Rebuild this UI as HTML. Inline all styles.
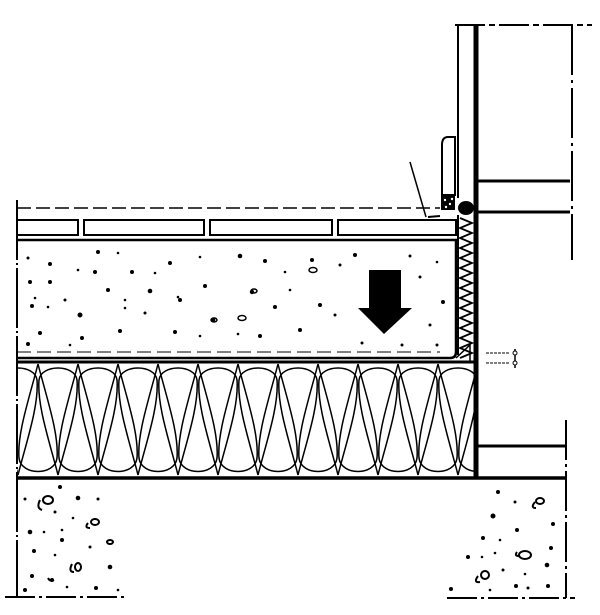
<!DOCTYPE html>
<html><head><style>html,body{margin:0;padding:0;background:#fff}svg{display:block}</style></head>
<body>
<svg width="600" height="615" viewBox="0 0 600 615" xmlns="http://www.w3.org/2000/svg" xmlns:xlink="http://www.w3.org/1999/xlink" fill="none" stroke="#000">
<defs>
<clipPath id="ic"><rect x="17" y="363" width="457" height="114"/></clipPath>
<g id="cell" stroke-width="1.5">
<path d="M20 475 C11 440 -1 405 1 380 C3 364 37 364 39 380 C41 405 29 440 20 475"/>
<path d="M40 364 C31 399 19 434 21 458 C23 476 57 476 59 458 C61 434 49 399 40 364"/>
</g>
</defs>
<!-- left boundary -->
<line x1="17" y1="200" x2="17" y2="598" stroke-width="2" stroke-dasharray="60 3 2 3"/>
<!-- top dashed line of floor -->
<line x1="17" y1="208" x2="440" y2="208" stroke-width="1.5" stroke-dasharray="14 5"/>
<!-- tiles -->
<g stroke-width="2">
<rect x="17" y="220" width="61" height="15"/>
<rect x="84" y="220" width="120" height="15"/>
<rect x="210" y="220" width="122" height="15"/>
<rect x="338" y="220" width="118" height="15"/>
</g>
<line x1="17" y1="240" x2="458" y2="240" stroke-width="2.5"/>
<!-- screed -->
<path d="M456 240 V352 Q456 358 450 358 H17" stroke-width="2.5"/>
<line x1="17" y1="352" x2="440" y2="352" stroke-width="1" stroke-dasharray="14 6"/>
<!-- screed dots -->
<g fill="#000" stroke="none">
<circle cx="28" cy="258" r="1.5"/><circle cx="50" cy="264" r="2"/><circle cx="98" cy="252" r="2"/><circle cx="118" cy="253" r="1.3"/><circle cx="78" cy="270" r="1.3"/><circle cx="95" cy="272" r="2"/><circle cx="132" cy="272" r="2"/><circle cx="155" cy="273" r="1.3"/><circle cx="170" cy="263" r="2"/><circle cx="200" cy="257" r="1.3"/><circle cx="240" cy="256" r="2.3"/><circle cx="265" cy="261" r="2"/><circle cx="285" cy="272" r="1.3"/><circle cx="30" cy="282" r="2"/><circle cx="50" cy="282" r="2"/><circle cx="108" cy="290" r="2"/><circle cx="150" cy="291" r="2.3"/><circle cx="178" cy="297" r="1.3"/><circle cx="205" cy="286" r="2"/><circle cx="252" cy="292" r="2.2"/><circle cx="35" cy="298" r="1.3"/><circle cx="65" cy="300" r="1.5"/><circle cx="125" cy="300" r="1.3"/><circle cx="180" cy="300" r="2"/><circle cx="32" cy="306" r="2"/><circle cx="48" cy="307" r="1.3"/><circle cx="80" cy="315" r="2.5"/><circle cx="125" cy="308" r="1.3"/><circle cx="145" cy="313" r="1.5"/><circle cx="213" cy="320" r="2.3"/><circle cx="275" cy="307" r="2"/><circle cx="40" cy="333" r="2"/><circle cx="82" cy="338" r="2"/><circle cx="120" cy="331" r="2"/><circle cx="175" cy="332" r="2"/><circle cx="200" cy="336" r="1.3"/><circle cx="238" cy="334" r="1.3"/><circle cx="260" cy="336" r="2"/><circle cx="28" cy="344" r="2"/><circle cx="70" cy="345" r="1.3"/><circle cx="312" cy="260" r="2"/><circle cx="340" cy="265" r="1.5"/><circle cx="290" cy="290" r="1.3"/><circle cx="320" cy="305" r="2"/><circle cx="300" cy="330" r="2"/><circle cx="335" cy="315" r="1.5"/><circle cx="355" cy="255" r="2"/><circle cx="410" cy="256" r="1.5"/><circle cx="420" cy="277" r="1.5"/><circle cx="437" cy="262" r="1.3"/><circle cx="443" cy="302" r="2"/><circle cx="430" cy="325" r="1.5"/><circle cx="402" cy="345" r="1.5"/><circle cx="437" cy="345" r="1.5"/><circle cx="362" cy="343" r="1.5"/>
</g>
<g stroke-width="1.5"><ellipse cx="242" cy="318" rx="4" ry="2.5"/><ellipse cx="214" cy="320" rx="3" ry="2"/><ellipse cx="313" cy="270" rx="4" ry="2.5"/><ellipse cx="254" cy="291" rx="3" ry="2"/></g>
<!-- arrow -->
<path d="M369 270 H401 V308 H412 L384 334 L358 308 H369 Z" fill="#000" stroke="none"/>
<!-- insulation -->
<line x1="17" y1="362" x2="475" y2="362" stroke-width="3"/>
<line x1="17" y1="478" x2="566" y2="478" stroke-width="3.5"/>
<g clip-path="url(#ic)">
<use xlink:href="#cell" href="#cell" x="-2"/>
<use xlink:href="#cell" href="#cell" x="38"/>
<use xlink:href="#cell" href="#cell" x="78"/>
<use xlink:href="#cell" href="#cell" x="118"/>
<use xlink:href="#cell" href="#cell" x="158"/>
<use xlink:href="#cell" href="#cell" x="198"/>
<use xlink:href="#cell" href="#cell" x="238"/>
<use xlink:href="#cell" href="#cell" x="278"/>
<use xlink:href="#cell" href="#cell" x="318"/>
<use xlink:href="#cell" href="#cell" x="358"/>
<use xlink:href="#cell" href="#cell" x="398"/>
<use xlink:href="#cell" href="#cell" x="438"/>
</g>
<!-- wall -->
<line x1="476" y1="25" x2="476" y2="478" stroke-width="5"/>
<line x1="458" y1="25" x2="458" y2="198" stroke-width="2"/>
<line x1="455" y1="25" x2="592" y2="25" stroke-width="2" stroke-dasharray="30 4 6 4"/>
<line x1="572" y1="25" x2="572" y2="260" stroke-width="2" stroke-dasharray="50 5 3 5"/>
<line x1="478" y1="181" x2="570" y2="181" stroke-width="3"/>
<line x1="478" y1="212" x2="570" y2="212" stroke-width="3"/>
<line x1="478" y1="446" x2="566" y2="446" stroke-width="3"/>
<line x1="566" y1="420" x2="566" y2="598" stroke-width="2" stroke-dasharray="40 4 3 4"/>
<!-- skirting -->
<path d="M442 195 V145 Q442 137 448 137 H455 V195 Z" stroke-width="2" fill="#fff"/>
<rect x="441" y="196" width="14" height="14" fill="#000" stroke="none"/>
<g fill="#fff" stroke="none"><circle cx="445" cy="200" r="1.2"/><circle cx="450" cy="204" r="1.2"/><circle cx="446" cy="207" r="1.2"/><circle cx="452" cy="199" r="1.2"/></g>
<ellipse cx="466" cy="208" rx="8" ry="7" fill="#000" stroke="none"/>
<!-- leader -->
<line x1="410" y1="162" x2="426" y2="217" stroke-width="1.5"/>
<line x1="428" y1="217" x2="440" y2="216" stroke-width="2"/>
<!-- edge strip zigzag -->
<line x1="458" y1="215" x2="458" y2="355" stroke-width="2"/>
<path d="M460 218 L472 223 L460 228 L472 233 L460 238 L472 243 L460 248 L472 253 L460 258 L472 263 L460 268 L472 273 L460 278 L472 283 L460 288 L472 293 L460 298 L472 303 L460 308 L472 313 L460 318 L472 323 L460 328 L472 333 L460 338 L472 343 L460 348 L472 353 L460 358" stroke-width="1.8"/>
<path d="M456 358 L470 345 V362" stroke-width="1.5"/>
<!-- dimension mark -->
<g stroke-width="1"><line x1="486" y1="353" x2="510" y2="353" stroke-dasharray="3 1"/><line x1="486" y1="363" x2="510" y2="363" stroke-dasharray="3 1"/><line x1="515" y1="349" x2="515" y2="368" stroke-width="1.5"/><circle cx="515" cy="353" r="2" fill="#fff"/><circle cx="515" cy="363" r="2" fill="#fff"/></g>
<!-- soil bottom lines -->
<line x1="5" y1="597" x2="127" y2="597" stroke-width="2" stroke-dasharray="30 4 3 4"/>
<line x1="447" y1="598" x2="575" y2="598" stroke-width="2" stroke-dasharray="30 4 3 4"/>
<!-- soil dots -->
<g fill="#000" stroke="none">
<circle cx="60" cy="487" r="2"/><circle cx="78" cy="498" r="2.3"/><circle cx="25" cy="499" r="1.5"/><circle cx="98" cy="499" r="1.5"/><circle cx="55" cy="512" r="1.5"/><circle cx="73" cy="518" r="1.3"/><circle cx="30" cy="532" r="2.3"/><circle cx="44" cy="532" r="1.3"/><circle cx="62" cy="530" r="1.3"/><circle cx="34" cy="551" r="2"/><circle cx="62" cy="540" r="2"/><circle cx="90" cy="547" r="1.5"/><circle cx="55" cy="555" r="1.3"/><circle cx="110" cy="567" r="2.3"/><circle cx="32" cy="576" r="2"/><circle cx="52" cy="580" r="2"/><circle cx="96" cy="588" r="2"/><circle cx="25" cy="590" r="2"/><circle cx="67" cy="587" r="1.3"/><circle cx="118" cy="590" r="1.3"/>
<circle cx="498" cy="492" r="2"/><circle cx="515" cy="502" r="1.5"/><circle cx="493" cy="516" r="2.5"/><circle cx="517" cy="530" r="2"/><circle cx="553" cy="524" r="2"/><circle cx="483" cy="538" r="2"/><circle cx="500" cy="540" r="1.3"/><circle cx="551" cy="548" r="2"/><circle cx="468" cy="557" r="2"/><circle cx="482" cy="557" r="1.3"/><circle cx="495" cy="553" r="1.3"/><circle cx="547" cy="565" r="2.3"/><circle cx="503" cy="570" r="1.5"/><circle cx="525" cy="574" r="1.3"/><circle cx="451" cy="589" r="2"/><circle cx="490" cy="590" r="1.3"/><circle cx="516" cy="586" r="2"/><circle cx="528" cy="588" r="1.5"/><circle cx="548" cy="586" r="2"/>
</g>
<g stroke-width="2">
<ellipse cx="48" cy="500" rx="5" ry="4"/><path d="M40 500 Q36 508 42 510"/>
<ellipse cx="95" cy="522" rx="4" ry="3"/><path d="M88 523 Q84 528 90 528"/>
<ellipse cx="78" cy="567" rx="3" ry="4"/><path d="M72 564 Q68 572 74 572"/>
<ellipse cx="110" cy="542" rx="3" ry="2"/><path d="M48 578 Q50 582 54 580"/>
<ellipse cx="540" cy="501" rx="4" ry="3"/><path d="M535 502 Q530 508 536 508"/>
<ellipse cx="525" cy="555" rx="6" ry="4"/><path d="M517 552 Q514 556 519 556"/>
<ellipse cx="485" cy="575" rx="4" ry="4"/><path d="M478 576 Q473 583 480 582"/>
</g>
</svg>
</body></html>
